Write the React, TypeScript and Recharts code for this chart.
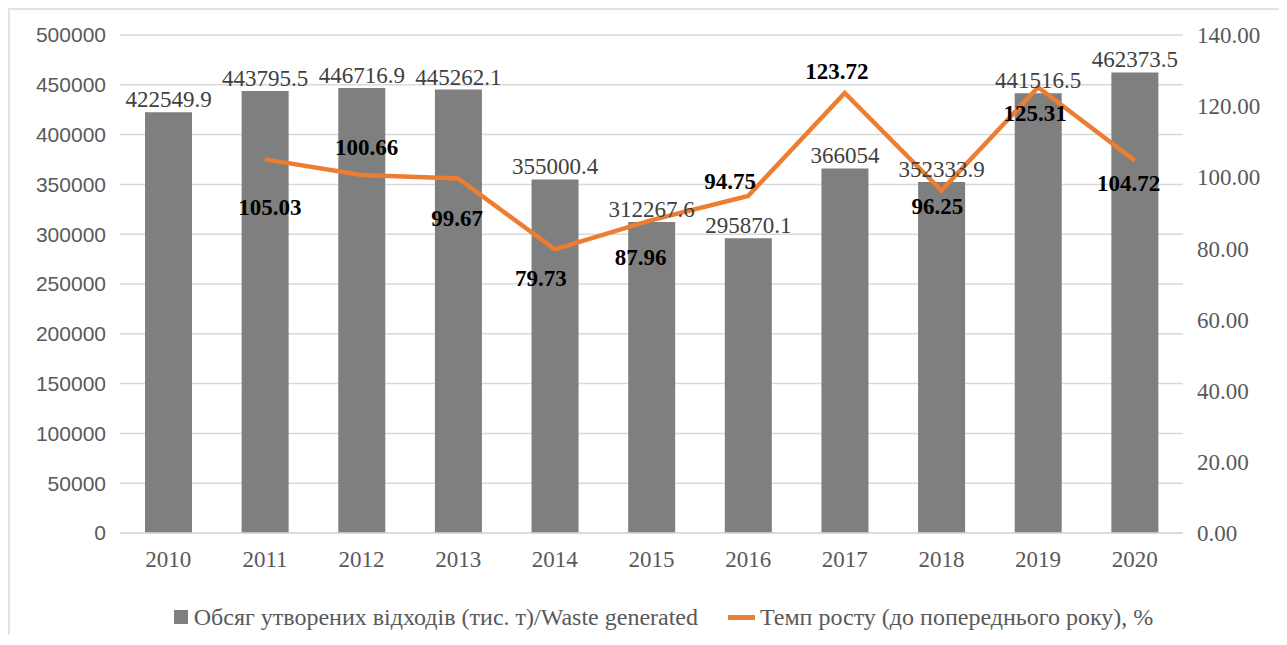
import {
  ComposedChart,
  Bar,
  Line,
  XAxis,
  YAxis,
  CartesianGrid,
  Legend,
  LabelList,
} from "recharts";

const YEARS = ["2010", "2011", "2012", "2013", "2014", "2015", "2016", "2017", "2018", "2019", "2020"];
const WASTE = [
  422549.9, 443795.5, 446716.9, 445262.1, 355000.4, 312267.6, 295870.1, 366054, 352333.9,
  441516.5, 462373.5,
];
const GROWTH: (number | null)[] = [
  null, 105.03, 100.66, 99.67, 79.73, 87.96, 94.75, 123.72, 96.25, 125.31, 104.72,
];
const LEFT_TICKS = [0, 50000, 100000, 150000, 200000, 250000, 300000, 350000, 400000, 450000, 500000];
const RIGHT_TICKS = [0, 20, 40, 60, 80, 100, 120, 140];

const WASTE_NAME = "Обсяг утворених відходів (тис. т)/Waste generated";
const GROWTH_NAME = "Темп росту (до попереднього року), %";

// the growth labels sit around their points the way the source placed them
const GROWTH_LABEL_SHIFT: [number, number][] = [
  [0, 0], [5, 48], [5, -27], [-1, 40], [-14, 29], [-11, 37],
  [-18, -14], [-8, -21], [-4, 16], [-3, 26], [-6, 23],
];

const SERIF = "'Liberation Serif', 'Times New Roman', serif";
const SANS = "'Liberation Sans', Arial, sans-serif";
const BAR_COLOR = "#7f7f7f";
const LINE_COLOR = "#ed7d31";
const AXIS_TEXT = "#595959";

const data = YEARS.map((year, i) => ({ year, waste: WASTE[i], growth: GROWTH[i] }));

function GrowthLabel(props: any) {
  const { x, y, value, index } = props;
  if (value == null) return null;
  const [dx, dy] = GROWTH_LABEL_SHIFT[index] ?? [0, 0];
  return (
    <text
      x={x + dx}
      y={y + dy}
      textAnchor="middle"
      dominantBaseline="central"
      fontFamily={SERIF}
      fontSize={23}
      fontWeight="bold"
      fill="#000"
    >
      {Number(value).toFixed(2)}
    </text>
  );
}

function ChartLegend() {
  return (
    <div
      style={{
        display: "flex",
        justifyContent: "center",
        alignItems: "center",
        height: 30,
        paddingLeft: 38,
        fontFamily: SERIF,
        fontSize: 24,
        color: AXIS_TEXT,
        whiteSpace: "nowrap",
      }}
    >
      <span style={{ width: 14, height: 14, background: BAR_COLOR, marginRight: 6 }} />
      <span>{WASTE_NAME}</span>
      <span style={{ width: 27, height: 5, background: LINE_COLOR, marginLeft: 30, marginRight: 5 }} />
      <span>{GROWTH_NAME}</span>
    </div>
  );
}

export default function App() {
  return (
    <div style={{ borderTop: "2px solid #e3e3e3", borderLeft: "2px solid #e3e3e3", width: 1269 }}>
      <ComposedChart
        width={1269}
        height={625}
        data={data}
        margin={{ top: 25, right: 0, bottom: 3, left: 0 }}
        barSize={47}
      >
        <CartesianGrid yAxisId="left" vertical={false} stroke="#d9d9d9" strokeWidth={1.5} />
        <XAxis
          dataKey="year"
          tickLine={false}
          axisLine={{ stroke: "#d9d9d9", strokeWidth: 1.5 }}
          tickSize={0}
          tickMargin={18}
          height={69}
          tick={{ fontFamily: SERIF, fontSize: 23, fill: AXIS_TEXT }}
        />
        <YAxis
          yAxisId="left"
          domain={[0, 500000]}
          ticks={LEFT_TICKS}
          width={110}
          axisLine={false}
          tickLine={false}
          tickSize={0}
          tickMargin={14}
          tick={{ fontFamily: SANS, fontSize: 21, fill: AXIS_TEXT }}
        />
        <YAxis
          yAxisId="right"
          orientation="right"
          domain={[0, 140]}
          ticks={RIGHT_TICKS}
          width={96}
          axisLine={false}
          tickLine={false}
          tickSize={0}
          tickMargin={14}
          tickFormatter={(v: number) => v.toFixed(2)}
          tick={{ fontFamily: SERIF, fontSize: 23, fill: AXIS_TEXT, textAnchor: "start" }}
        />
        <Legend verticalAlign="bottom" content={() => <ChartLegend />} />
        <Bar yAxisId="left" dataKey="waste" name={WASTE_NAME} fill={BAR_COLOR} isAnimationActive={false}>
          <LabelList
            dataKey="waste"
            position="top"
            offset={5}
            fill="#404040"
            fontFamily={SERIF}
            fontSize={23}
          />
        </Bar>
        <Line
          yAxisId="right"
          dataKey="growth"
          name={GROWTH_NAME}
          type="linear"
          stroke={LINE_COLOR}
          strokeWidth={4.5}
          dot={false}
          activeDot={false}
          isAnimationActive={false}
        >
          <LabelList dataKey="growth" content={<GrowthLabel />} />
        </Line>
      </ComposedChart>
    </div>
  );
}
